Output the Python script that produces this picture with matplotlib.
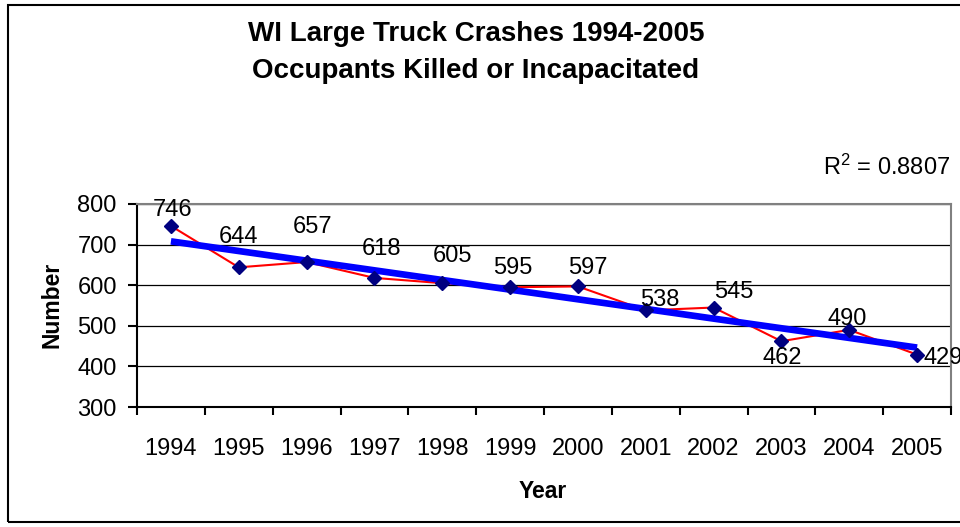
import numpy as np
import matplotlib
matplotlib.use("Agg")
import matplotlib.pyplot as plt
from matplotlib.patches import Rectangle

# =========================
# DATA
# =========================
years = ["1994", "1995", "1996", "1997", "1998", "1999",
         "2000", "2001", "2002", "2003", "2004", "2005"]
counts = [746, 644, 657, 618, 605, 595, 597, 538, 545, 462, 490, 429]
r2_text = "R$^2$ = 0.8807"

# label placement (pixels from marker: dx, dy of baseline), as in the excel chart
label_dx = [2, 0, 6, 7, 10, 3, 10, 14, 20, 1, -2, 6]
label_dy = [10, 24, 29, 23, 21, 13, 12, 4, 10, -23, 5, -9]

plt.rcParams['font.family'] = ['Liberation Sans', 'DejaVu Sans']
plt.rcParams['mathtext.fontset'] = 'custom'
plt.rcParams['mathtext.rm'] = 'Liberation Sans'
plt.rcParams['mathtext.default'] = 'regular'

W, H = 960, 527
fig = plt.figure(figsize=(W / 100, H / 100), dpi=100)

# outer chart border
fig.patches.append(Rectangle((8 / W, 5 / H), 1.0, 517 / H, transform=fig.transFigure,
                             fill=False, edgecolor="black", linewidth=1.5))

ax = fig.add_axes([137 / W, 1 - 407 / H, (951 - 137) / W, (407 - 204) / H])

x = np.arange(1, len(years) + 1)
y = np.array(counts)

# linear trend line
slope, intercept = np.polyfit(x, y, 1)
ax.plot(x, slope * x + intercept, color="#0000FF", linewidth=4.8,
        solid_capstyle="butt", zorder=3)

ax.plot(x, y, color="#FF0000", linewidth=1.5, zorder=2)
ax.plot(x, y, linestyle="none", marker="D", markersize=7,
        markerfacecolor="#000080", markeredgecolor="#000080", zorder=4)

# data labels
for i, (xi, yi) in enumerate(zip(x, y)):
    ha = "left" if years[i] == "2005" else "center"
    ax.annotate(str(yi), (xi, yi), xytext=(label_dx[i], label_dy[i]),
                textcoords="offset pixels", ha=ha, va="baseline",
                fontsize=17, annotation_clip=False, zorder=5)

ax.set_xlim(0.5, len(years) + 0.5)
ax.set_ylim(300, 800)
ax.set_yticks([300, 400, 500, 600, 700, 800])
ax.yaxis.grid(True, color="black", linewidth=0.9)
ax.set_axisbelow(True)

ax.set_xticks(np.arange(0.5, len(years) + 1, 1))
ax.set_xticklabels([])
ax.set_xticks(x, minor=True)
ax.set_xticklabels(years, minor=True)
ax.tick_params(axis="x", which="major", direction="out", length=6, width=1.5)
ax.tick_params(axis="x", which="minor", length=0, pad=22.5, labelsize=17)
ax.tick_params(axis="y", direction="out", length=6.5, width=1.5, labelsize=17, pad=8)

for s in ["top", "right"]:
    ax.spines[s].set_color("#808080")
    ax.spines[s].set_linewidth(1.5)
for s in ["left", "bottom"]:
    ax.spines[s].set_color("black")
    ax.spines[s].set_linewidth(1.5)

fig.text(543 / W, 1 - 498 / H, "Year", ha="center", va="baseline",
         fontsize=16.5, fontweight="bold")
fig.text(52 / W, 1 - 305 / H, "Number", ha="center", va="center", rotation=90,
         fontsize=16.5, fontweight="bold")

fig.text(476 / W, 1 - 41 / H, "WI Large Truck Crashes 1994-2005", ha="center", va="baseline",
         fontsize=20, fontweight="bold")
fig.text(476 / W, 1 - 78 / H, "Occupants Killed or Incapacitated", ha="center", va="baseline",
         fontsize=20, fontweight="bold")
fig.text(950 / W, 1 - 175 / H, r2_text, ha="right", va="baseline", fontsize=17)

fig.savefig("out.png", dpi=100)
